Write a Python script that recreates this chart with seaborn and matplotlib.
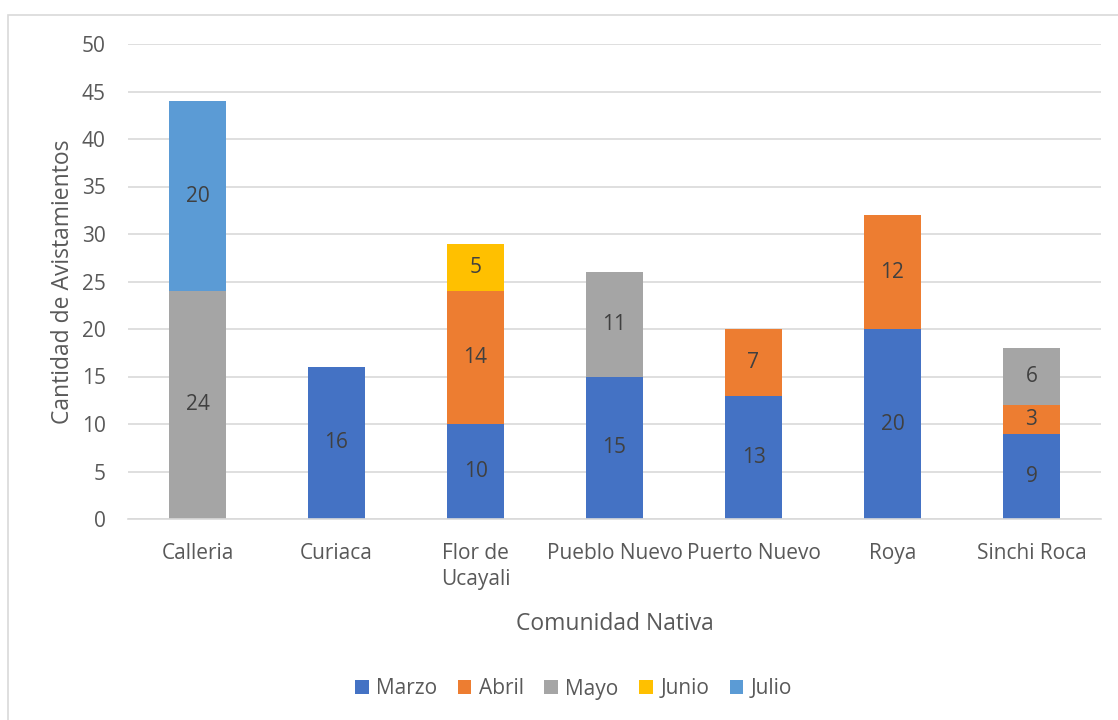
import numpy as np
import pandas as pd
import matplotlib
matplotlib.use("Agg")
import matplotlib.pyplot as plt
from matplotlib.patches import Rectangle, Patch
import seaborn as sns

# Sightings per native community, split by month
comunidades = ["Calleria", "Curiaca", "Flor de\nUcayali", "Pueblo Nuevo",
               "Puerto Nuevo", "Roya", "Sinchi Roca"]
meses = ["Marzo", "Abril", "Mayo", "Junio", "Julio"]
marzo = [0, 16, 10, 15, 13, 20, 9]
abril = [0, 0, 14, 0, 7, 12, 3]
mayo = [24, 0, 0, 11, 0, 0, 6]
junio = [0, 0, 5, 0, 0, 0, 0]
julio = [20, 0, 0, 0, 0, 0, 0]
colores = ["#4472C4", "#ED7D31", "#A5A5A5", "#FFC000", "#5B9BD5"]
yticks = list(range(0, 51, 5))

sns.set_theme(style="white")
plt.rcParams["font.family"] = ["Open Sans", "DejaVu Sans"]
texto = "#595959"

series = [marzo, abril, mayo, junio, julio]
df = pd.DataFrame(dict(zip(meses, series)), index=comunidades)
acum = df.cumsum(axis=1)

fig = plt.figure(figsize=(11.18, 7.2), dpi=100)
ax = fig.add_axes([128 / 1118, 1 - 519 / 720, (1101 - 128) / 1118, (519 - 44) / 720])

# Stacked bars: draw cumulative totals from the top series down
for mes, color in reversed(list(zip(meses, colores))):
    d = pd.DataFrame({"comunidad": comunidades, "valor": acum[mes].values})
    sns.barplot(data=d, x="comunidad", y="valor", color=color, width=0.41,
                saturation=1, linewidth=0, ax=ax, zorder=3)

# Segment value labels
for i, com in enumerate(comunidades):
    base = 0
    for mes in meses:
        v = df.loc[com, mes]
        if v > 0:
            ax.text(i, base + v / 2, f"{v}", ha="center", va="center",
                    fontsize=15, color="#404040", zorder=4)
        base += v

ax.set_ylim(0, 50)
ax.set_xlim(-0.5, len(comunidades) - 0.5)
ax.set_yticks(yticks)
ax.set_yticklabels([str(t) for t in yticks], fontsize=15, color=texto)
ax.tick_params(axis="x", labelsize=15, labelcolor=texto, length=0, pad=17)
ax.tick_params(axis="y", length=0, pad=16)
for lbl in ax.get_xticklabels():
    lbl.set_linespacing(1.35)
ax.yaxis.grid(True, color="#D9D9D9", linewidth=1.2, zorder=0)
ax.set_axisbelow(True)
for s in ["top", "right", "left"]:
    ax.spines[s].set_visible(False)
ax.spines["bottom"].set_color("#D9D9D9")
ax.spines["bottom"].set_linewidth(1.2)
ax.spines["bottom"].set_zorder(5)

ax.set_xlabel("Comunidad Nativa", fontsize=16.5, color=texto, labelpad=16)
ax.set_ylabel("Cantidad de Avistamientos", fontsize=16.5, color=texto, labelpad=5)

handles = [Patch(facecolor=c, edgecolor="none") for c in colores]
fig.legend(handles, meses, loc="center", bbox_to_anchor=(0.513, 1 - 689 / 720),
           ncol=5, frameon=False, fontsize=15, labelcolor=texto,
           handlelength=0.65, handleheight=0.65, handletextpad=0.35,
           columnspacing=1.0)

# Chart frame
fig.patches.append(Rectangle((8 / 1118, -0.05), 1.0, 1 - 15 / 720 + 0.05,
                             transform=fig.transFigure, fill=False,
                             edgecolor="#D9D9D9", linewidth=1.2))

fig.savefig("out.png", dpi=100)
